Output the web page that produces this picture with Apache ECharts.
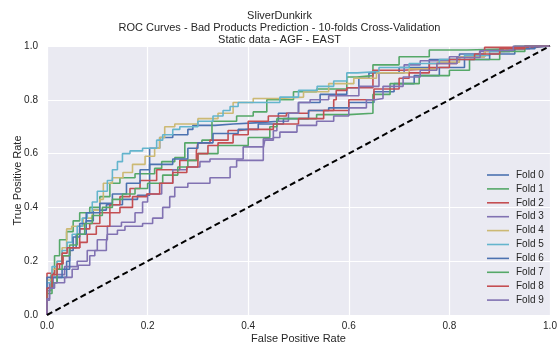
<!DOCTYPE html>
<html>
<head>
<meta charset="utf-8">
<script src="https://cdn.jsdelivr.net/npm/echarts@6/dist/echarts.min.js"></script>
<style>
html,body{margin:0;padding:0;background:#fff;}
#c{width:559px;height:349px;}
</style>
</head>
<body>
<div id="c"></div>
<script>
const titleLines = ['SliverDunkirk', 'ROC Curves - Bad Products Prediction - 10-folds Cross-Validation', 'Static data - AGF - EAST'];
const xLabel = 'False Positive Rate';
const yLabel = 'True Positive Rate';
const foldNames = ['Fold 0','Fold 1','Fold 2','Fold 3','Fold 4','Fold 5','Fold 6','Fold 7','Fold 8','Fold 9'];
const foldColors = ['#4C72B0','#55A868','#C44E52','#8172B2','#CCB974','#64B5CD','#4C72B0','#55A868','#C44E52','#8172B2'];
const chanceLine = [[0,0],[1,1]];

// [fpr, tpr] points
const fold0 = [[0,0],[0,0.04],[0.012,0.10],[0.02,0.14],[0.039,0.14],[0.045,0.20],[0.058,0.25],[0.078,0.30],[0.092,0.35],[0.118,0.39],[0.15,0.41],[0.18,0.43],[0.204,0.445],[0.224,0.62],[0.25,0.66],[0.28,0.67],[0.29,0.69],[0.334,0.705],[0.37,0.71],[0.423,0.715],[0.46,0.72],[0.5,0.75],[0.543,0.79],[0.596,0.82],[0.62,0.845],[0.64,0.88],[0.7,0.9],[0.76,0.92],[0.82,0.95],[0.87,0.97],[0.93,0.985],[0.97,0.995],[1,1]];
const fold1 = [[0,0],[0,0.03],[0.008,0.09],[0.015,0.15],[0.025,0.22],[0.039,0.28],[0.052,0.31],[0.065,0.35],[0.085,0.38],[0.105,0.40],[0.125,0.44],[0.145,0.49],[0.175,0.51],[0.214,0.525],[0.228,0.545],[0.254,0.57],[0.274,0.585],[0.308,0.64],[0.328,0.65],[0.377,0.72],[0.41,0.74],[0.437,0.755],[0.49,0.80],[0.536,0.83],[0.596,0.84],[0.616,0.885],[0.648,0.89],[0.7,0.93],[0.76,0.96],[0.835,0.985],[0.93,0.99],[1,1]];
const fold2 = [[0,0],[0,0.155],[0.015,0.155],[0.025,0.17],[0.032,0.19],[0.045,0.22],[0.065,0.25],[0.085,0.32],[0.105,0.34],[0.125,0.38],[0.145,0.41],[0.165,0.44],[0.185,0.47],[0.218,0.50],[0.264,0.54],[0.297,0.575],[0.30,0.61],[0.324,0.64],[0.36,0.65],[0.383,0.686],[0.40,0.69],[0.44,0.72],[0.476,0.74],[0.52,0.75],[0.57,0.76],[0.575,0.80],[0.596,0.835],[0.648,0.845],[0.708,0.91],[0.76,0.915],[0.815,0.935],[0.87,0.96],[0.935,0.995],[1,1]];
const fold3 = [[0,0],[0,0.02],[0.005,0.055],[0.02,0.12],[0.035,0.15],[0.06,0.18],[0.08,0.20],[0.1,0.24],[0.12,0.28],[0.148,0.33],[0.175,0.345],[0.19,0.38],[0.2,0.42],[0.228,0.45],[0.25,0.49],[0.278,0.54],[0.304,0.55],[0.324,0.57],[0.39,0.58],[0.43,0.625],[0.45,0.655],[0.457,0.685],[0.48,0.72],[0.50,0.75],[0.523,0.79],[0.56,0.80],[0.62,0.815],[0.66,0.85],[0.71,0.90],[0.742,0.93],[0.8,0.945],[0.86,0.96],[0.92,0.98],[0.96,0.99],[1,1]];
const fold4 = [[0,0],[0,0.08],[0.01,0.13],[0.02,0.17],[0.03,0.2],[0.039,0.25],[0.049,0.32],[0.072,0.33],[0.09,0.36],[0.105,0.39],[0.112,0.43],[0.13,0.49],[0.151,0.51],[0.17,0.53],[0.195,0.56],[0.214,0.59],[0.224,0.62],[0.234,0.66],[0.254,0.70],[0.3,0.71],[0.34,0.73],[0.37,0.75],[0.41,0.79],[0.463,0.805],[0.51,0.81],[0.56,0.83],[0.61,0.86],[0.655,0.88],[0.72,0.9],[0.776,0.915],[0.82,0.94],[0.87,0.96],[0.91,0.98],[0.95,0.99],[1,1]];
const fold5 = [[0,0],[0,0.05],[0.01,0.12],[0.02,0.18],[0.03,0.2],[0.04,0.24],[0.05,0.27],[0.06,0.3],[0.07,0.33],[0.08,0.36],[0.09,0.38],[0.1,0.42],[0.12,0.46],[0.13,0.50],[0.14,0.54],[0.15,0.57],[0.165,0.60],[0.19,0.61],[0.218,0.62],[0.23,0.65],[0.25,0.67],[0.264,0.69],[0.3,0.70],[0.33,0.72],[0.35,0.74],[0.364,0.76],[0.38,0.775],[0.403,0.79],[0.463,0.79],[0.5,0.81],[0.537,0.835],[0.57,0.85],[0.596,0.87],[0.617,0.90],[0.66,0.905],[0.72,0.92],[0.78,0.935],[0.83,0.95],[0.88,0.965],[0.92,0.98],[0.95,0.99],[1,1]];
const fold6 = [[0,0],[0,0.05],[0.012,0.14],[0.03,0.14],[0.045,0.17],[0.052,0.24],[0.065,0.29],[0.078,0.34],[0.105,0.38],[0.13,0.415],[0.158,0.45],[0.185,0.49],[0.204,0.54],[0.25,0.56],[0.28,0.58],[0.30,0.62],[0.33,0.64],[0.38,0.675],[0.42,0.69],[0.47,0.71],[0.52,0.73],[0.56,0.76],[0.6,0.77],[0.65,0.79],[0.69,0.83],[0.73,0.86],[0.78,0.89],[0.83,0.92],[0.88,0.95],[0.93,0.97],[0.97,0.99],[1,1]];
const fold7 = [[0,0],[0,0.02],[0.01,0.08],[0.02,0.12],[0.03,0.17],[0.045,0.22],[0.06,0.26],[0.075,0.30],[0.09,0.34],[0.11,0.37],[0.13,0.40],[0.15,0.43],[0.175,0.45],[0.2,0.47],[0.23,0.49],[0.26,0.52],[0.28,0.55],[0.30,0.575],[0.34,0.60],[0.40,0.63],[0.443,0.66],[0.457,0.70],[0.536,0.73],[0.6,0.745],[0.648,0.75],[0.682,0.82],[0.74,0.86],[0.8,0.89],[0.84,0.91],[0.9,0.95],[0.95,0.98],[1,1]];
const fold8 = [[0,0],[0,0.10],[0.01,0.10],[0.02,0.15],[0.03,0.19],[0.04,0.23],[0.065,0.25],[0.08,0.27],[0.098,0.30],[0.125,0.33],[0.145,0.38],[0.17,0.40],[0.198,0.44],[0.224,0.45],[0.25,0.49],[0.278,0.53],[0.30,0.55],[0.32,0.60],[0.34,0.63],[0.37,0.64],[0.40,0.67],[0.45,0.69],[0.5,0.71],[0.55,0.73],[0.6,0.76],[0.65,0.80],[0.7,0.84],[0.72,0.88],[0.76,0.90],[0.8,0.92],[0.85,0.95],[0.9,0.97],[0.95,0.99],[1,1]];
const fold9 = [[0,0],[0,0.03],[0.005,0.06],[0.015,0.10],[0.035,0.12],[0.05,0.14],[0.062,0.17],[0.085,0.185],[0.095,0.22],[0.118,0.24],[0.12,0.27],[0.14,0.30],[0.155,0.315],[0.168,0.33],[0.19,0.33],[0.21,0.34],[0.23,0.36],[0.244,0.40],[0.254,0.44],[0.28,0.475],[0.324,0.49],[0.364,0.51],[0.377,0.55],[0.39,0.575],[0.43,0.575],[0.433,0.62],[0.45,0.65],[0.463,0.66],[0.497,0.68],[0.536,0.705],[0.57,0.72],[0.60,0.74],[0.635,0.77],[0.652,0.80],[0.668,0.805],[0.708,0.85],[0.742,0.885],[0.775,0.91],[0.815,0.935],[0.861,0.957],[0.927,0.983],[1,1]];
const folds = [fold0, fold1, fold2, fold3, fold4, fold5, fold6, fold7, fold8, fold9];

const FONT = '"Liberation Sans", Arial, sans-serif';
const TXT = '#262626';
const chart = echarts.init(document.getElementById('c'), null, {renderer: 'canvas'});

const series = folds.map((d, i) => ({
  name: foldNames[i],
  type: 'line',
  data: d,
  step: 'start',
  symbol: 'none',
  lineStyle: {width: 1.6, color: foldColors[i]},
  itemStyle: {color: foldColors[i]},
  z: 3 + i,
  silent: true,
  animation: false
}));
series.push({
  name: 'chance',
  type: 'line',
  data: chanceLine,
  symbol: 'none',
  lineStyle: {width: 2, color: '#000', type: [6, 3.5]},
  z: 20,
  silent: true,
  animation: false
});

chart.setOption({
  animation: false,
  backgroundColor: '#ffffff',
  title: titleLines.map((t, i) => ({
    text: t,
    left: 'center',
    top: 5 + i * 12.2,
    textStyle: {fontFamily: FONT, fontSize: 11, fontWeight: 'normal', color: TXT}
  })),
  grid: {left: 47, right: 9, top: 46, bottom: 34, show: true, backgroundColor: '#EAEAF2', borderWidth: 0, containLabel: false, outerBoundsMode: 'none'},
  legend: {
    data: foldNames,
    orient: 'vertical',
    left: 487,
    top: 170,
    itemWidth: 22,
    itemHeight: 10,
    itemGap: 3.9,
    padding: 0,
    icon: 'path://M0,0 L22,0 L22,1.6 L0,1.6 Z',
    textStyle: {fontFamily: FONT, fontSize: 10, color: TXT, padding: [0,0,0,2]}
  },
  xAxis: {
    type: 'value', min: 0, max: 1, interval: 0.2,
    name: xLabel, nameLocation: 'middle', nameGap: 18, nameMoveOverlap: false,
    nameTextStyle: {fontFamily: FONT, fontSize: 11, color: TXT},
    axisLine: {show: false}, axisTick: {show: false},
    axisLabel: {fontFamily: FONT, fontSize: 10, color: TXT, margin: 6, formatter: v => v.toFixed(1)},
    splitLine: {show: true, lineStyle: {color: '#ffffff', width: 1.2}}
  },
  yAxis: {
    type: 'value', min: 0, max: 1, interval: 0.2,
    name: yLabel, nameLocation: 'middle', nameGap: 24, nameMoveOverlap: false,
    nameTextStyle: {fontFamily: FONT, fontSize: 11, color: TXT},
    axisLine: {show: false}, axisTick: {show: false},
    axisLabel: {fontFamily: FONT, fontSize: 10, color: TXT, margin: 9, formatter: v => v.toFixed(1)},
    splitLine: {show: true, lineStyle: {color: '#ffffff', width: 1.2}}
  },
  series: series
});
</script>
</body>
</html>
